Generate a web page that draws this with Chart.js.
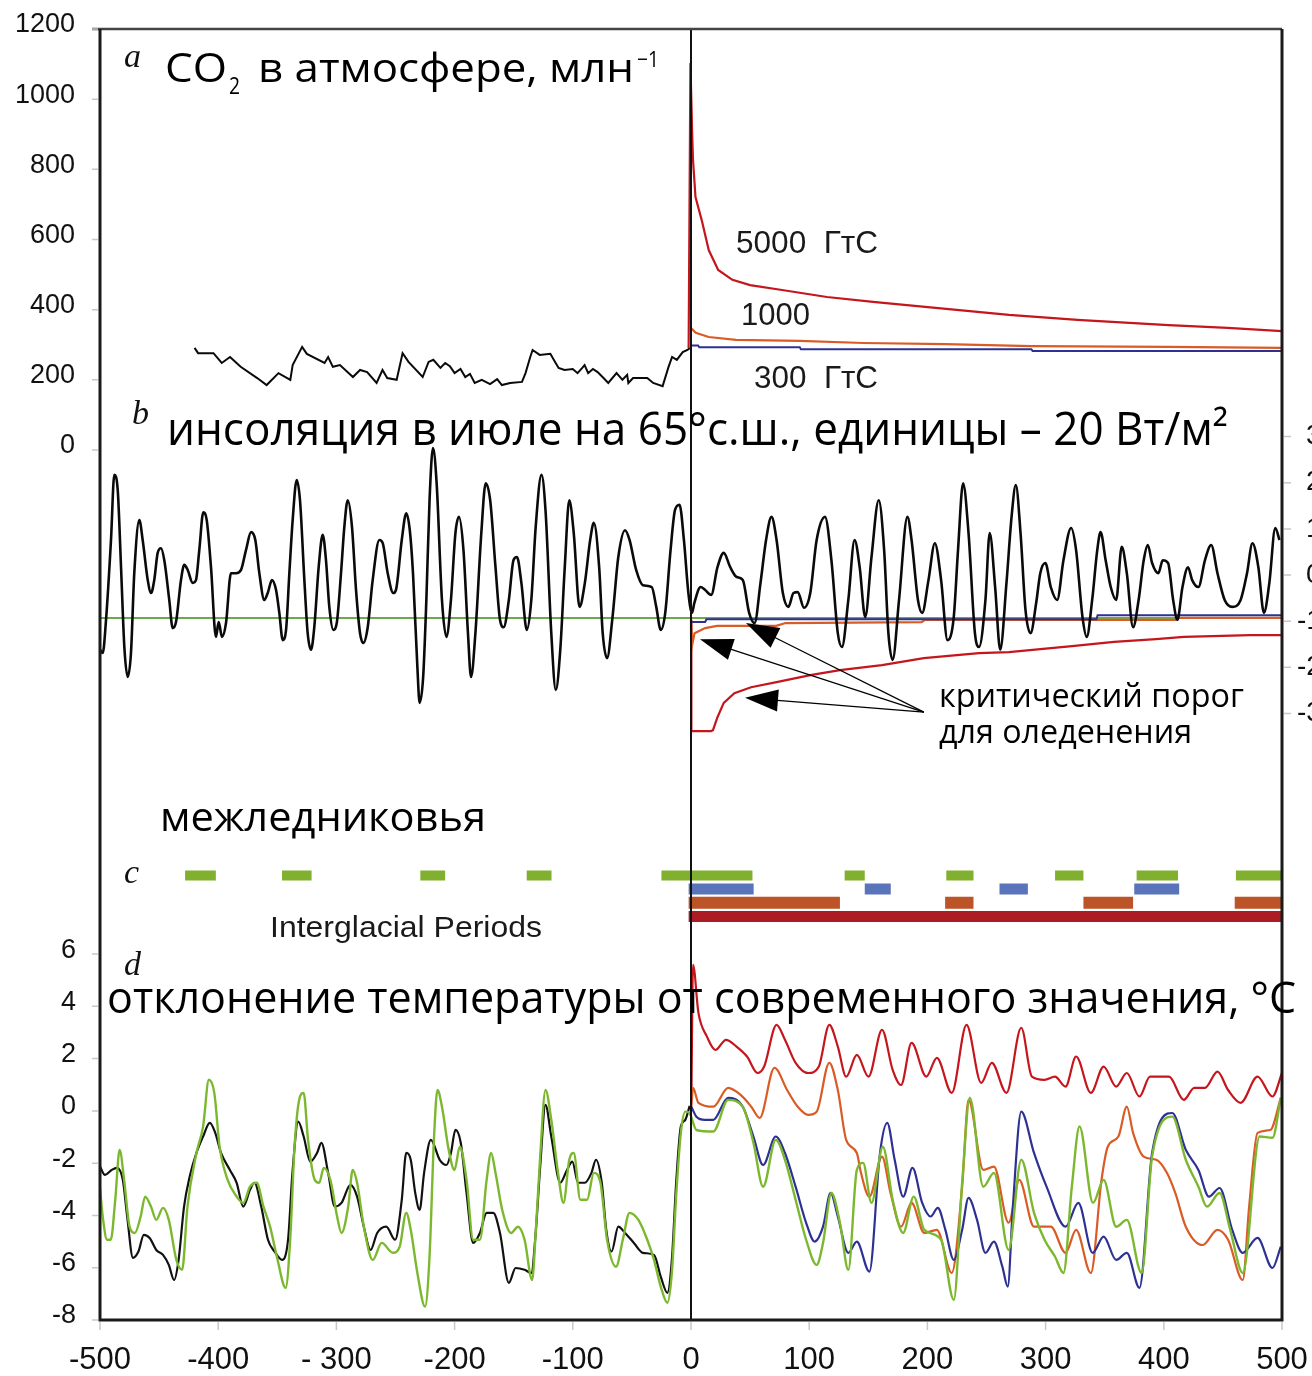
<!DOCTYPE html>
<html lang="ru">
<head>
<meta charset="UTF-8">
<title>CO2, insolation, interglacials, temperature</title>
<script src="https://cdn.jsdelivr.net/npm/chart.js@4.4.0/dist/chart.umd.min.js"></script>
<style>
    html, body { margin: 0; padding: 0; background: #fff; }
    .wrap { width: 1312px; height: 1376px; position: relative; }
</style>
</head>
<body>
<div class="wrap"><canvas id="chart"></canvas></div>
<script>
// ---- tick labels ----
const xTicks = [-500, -400, -300, -200, -100, 0, 100, 200, 300, 400, 500];
const xTickLabels = ['-500', '-400', '- 300', '-200', '-100', '0', '100', '200', '300', '400', '500'];
const co2Ticks = [0, 200, 400, 600, 800, 1000, 1200];
const tempTicks = [-8, -6, -4, -2, 0, 2, 4, 6];
const insolTicks = [-3, -2, -1, 0, 1, 2, 3];

// ---- panel a: CO2, ppm ----
const co2Past = [[-420,291],[-417,276],[-404,276],[-397,248],[-390,265],[-381,237],[-367,205],[-359,185],[-349,219],[-339,200],[-337,242],[-329,294],[-325,274],[-310,248],[-307,265],[-303,237],[-297,242],[-286,208],[-280,228],[-274,222],[-266,191],[-261,228],[-257,205],[-249,200],[-244,276],[-239,251],[-227,208],[-222,251],[-218,257],[-212,234],[-208,248],[-204,239],[-200,219],[-195,231],[-191,208],[-187,217],[-183,191],[-177,200],[-170,188],[-164,202],[-160,185],[-153,191],[-143,194],[-140,219],[-136,265],[-134,285],[-128,271],[-119,274],[-115,251],[-112,234],[-107,228],[-100,231],[-96,219],[-92,234],[-90,242],[-87,219],[-83,231],[-79,222],[-74,205],[-70,191],[-63,219],[-58,200],[-54,214],[-53,191],[-49,205],[-37,205],[-32,191],[-24,182],[-19,237],[-16,265],[-12,257],[-7,279],[-3,285],[-1,290]];
const co2_5000 = [[-2,290],[-0.5,1103],[1,900],[1.7,827],[3.8,721],[9,656],[15,570],[23,513],[35,485],[50,470],[77,456],[115,436],[154,422],[207,405],[269,385],[327,371],[404,356],[454,348],[500,339]];
const co2_1000 = [[0,348],[4,334],[15,322],[38,314],[92,311],[146,305],[215,302],[288,296],[404,294],[500,291]];
const co2_300 = [[0,298],[6,298],[7,293],[92,293],[93,287],[288,287],[289,282],[500,282]];

// ---- panel b: insolation, units of 20 W/m2 ----
const insolation = [[-500,-1.62],[-497.7,-1.69],[-494.9,-0.97],[-490.7,0.76],[-487.9,2.17],[-485,1.84],[-482.2,0.17],[-479.4,-1.56],[-476.6,-2.21],[-473.8,-1.69],[-471,0.04],[-466.7,1.19],[-463.9,0.76],[-459.6,-0.11],[-456.8,-0.39],[-454.1,-0.11],[-451.2,0.48],[-448.4,0.58],[-445.6,0.32],[-441.4,-0.54],[-438.5,-1.15],[-435.7,-1.02],[-431.5,-0.11],[-428.7,0.22],[-425.8,0.11],[-421.6,-0.17],[-418.8,-0.11],[-416,0.54],[-412.6,1.36],[-409.7,1.19],[-406.1,0.17],[-401.9,-1.34],[-399.6,-1.02],[-396.8,-1.34],[-393.4,-1.04],[-389.2,0.04],[-384.9,0.04],[-380.7,0.11],[-376.5,0.54],[-372.2,0.93],[-368.6,0.76],[-365.2,0.04],[-361,-0.54],[-358.1,-0.39],[-354.5,-0.11],[-351.1,-0.32],[-348.3,-0.82],[-345.4,-1.41],[-342.6,-1.19],[-339.8,0.04],[-337,1.19],[-333.6,2.06],[-330.8,1.62],[-327.1,-0.11],[-324.3,-1.26],[-321.5,-1.62],[-318.7,-1.13],[-315,0.17],[-311.6,0.87],[-308.8,0.32],[-306,-0.69],[-302.6,-1.19],[-299.7,-1.04],[-296.1,0.04],[-293.3,1.04],[-290.4,1.62],[-286.8,1.04],[-283.4,-0.32],[-280,-1.26],[-277.2,-1.47],[-273.5,-1.13],[-269.3,-0.11],[-263.7,0.76],[-260.8,0.69],[-256.6,0.04],[-251.9,-0.39],[-249.6,-0.32],[-244.7,0.76],[-240.9,1.34],[-237.9,0.97],[-235.2,0.04],[-231.5,-1.99],[-229.6,-2.77],[-226.6,-2.21],[-223.9,-0.54],[-221.2,1.62],[-218.3,2.75],[-215.2,1.99],[-210.7,-0.54],[-206.9,-1.34],[-203.1,-0.54],[-199.3,0.91],[-196.3,1.26],[-192.5,0.54],[-188.7,-1.26],[-186.1,-2.21],[-182.4,-1.26],[-177.4,0.91],[-173.7,1.99],[-169.9,1.62],[-165.4,0.17],[-161.6,-0.97],[-158.5,-1.13],[-154.1,-0.54],[-150.2,0.32],[-147.2,0.39],[-143.5,-0.17],[-138.9,-1.19],[-135.1,-0.54],[-131.4,1.04],[-126.5,2.17],[-123.1,1.41],[-118.2,-1.26],[-114.4,-2.49],[-110.6,-1.62],[-106.8,0.17],[-103,1.62],[-99.2,0.91],[-94.3,-0.69],[-89.8,-0.17],[-85.3,0.76],[-82.2,1.13],[-77.7,0.17],[-74.7,-1.26],[-71,-1.8],[-66.4,-0.91],[-61.5,0.39],[-55.8,0.97],[-52,0.76],[-46.4,0.11],[-40.7,-0.22],[-33.2,-0.26],[-29.4,-0.69],[-25.6,-1.19],[-21.8,-0.82],[-17.3,0.54],[-13.5,1.41],[-9.7,1.52],[-6,0.76],[-2.2,-0.39],[0.8,-0.82],[2.8,-0.61],[8.1,-0.26],[11.8,-0.32],[17.1,-0.43],[22.4,0.17],[27.7,0.48],[33.2,0.17],[38.5,-0.04],[43.8,-0.11],[49.2,-0.82],[53.8,-1.04],[58.8,-0.17],[63.5,0.76],[68.1,1.26],[72.4,0.76],[77.7,-0.39],[82.4,-0.69],[86.7,-0.39],[90.3,-0.37],[95.6,-0.71],[100.9,-0.39],[106.3,0.76],[113.4,1.26],[118.8,0.32],[124.2,-1.26],[127.7,-1.56],[133.1,-0.54],[138.4,0.76],[142.7,0.17],[147.4,-0.91],[152.7,0.39],[158.8,1.62],[163.4,0.54],[167,-1.26],[170.6,-1.84],[176,-0.54],[183.1,1.26],[186.6,0.76],[192,-0.54],[195.6,-0.82],[200.9,-0.11],[206.3,0.69],[211.6,-0.11],[217,-1.41],[222.3,-0.91],[225.9,0.54],[230.2,1.99],[234.8,0.91],[240.2,-1.26],[243.7,-1.56],[249.1,-0.54],[252.7,0.91],[257.3,-0.26],[261.6,-1.62],[266.9,-0.17],[271.2,1.26],[274.8,1.95],[278.8,0.91],[283,-0.76],[287.3,-1.26],[292,-0.61],[295.5,0.04],[299.8,0.26],[304.4,-0.26],[309.8,-0.54],[315.1,0.32],[321.6,1.02],[325.8,0.54],[331.2,-0.91],[334.8,-1.34],[339.4,-0.54],[343.7,0.54],[346.5,0.93],[350.8,0.32],[355.1,-0.26],[359.7,-0.54],[364.4,0.61],[368.7,0.04],[374,-1.13],[378.7,-0.54],[383,0.32],[386.5,0.65],[390.1,0.26],[395.4,0.04],[399.1,0.32],[403.6,0.26],[407.9,-0.54],[411.5,-0.97],[415.8,-0.26],[420.5,0.17],[424,-0.11],[429.3,-0.26],[434.8,0.32],[440.1,0.65],[445.4,0.04],[451.5,-0.54],[457.9,-0.69],[465,-0.54],[470.4,0.04],[475,0.69],[480,0.17],[484.7,-0.82],[489.3,-0.17],[494.3,1.02],[497.9,0.76]];
const thresholdNow = [[-500,-0.93],[500,-0.93]];
const threshold300 = [[0,-1.02],[12,-1.02],[13,-0.96],[343,-0.96],[344,-0.87],[500,-0.87]];
const threshold1000 = [[0,-0.93],[1,-1.51],[3,-1.26],[12,-1.15],[22,-1.1],[72,-1.1],[80,-1.04],[195,-1.02],[198,-0.97],[410,-0.97],[412,-0.93],[500,-0.93]];
const threshold5000 = [[0,-0.97],[0.3,-3.38],[17,-3.38],[18.6,-3.36],[22.4,-3.08],[27.7,-2.77],[36.7,-2.56],[50.8,-2.43],[72.4,-2.32],[100.9,-2.17],[126,-2.06],[161.6,-1.95],[197,-1.8],[243.6,-1.69],[269,-1.67],[322.3,-1.54],[357.9,-1.45],[393.4,-1.39],[417,-1.34],[473,-1.3],[500,-1.3]];
// arrows: tail and tips in (kyr, insolation units)
const arrowTail = [197, -2.97];
const arrowTips = [[46.5, -1.04], [7.6, -1.39], [45.7, -2.66]];

// ---- panel c: interglacial periods, kyr ----
const igNow = [[-428,-402],[-346,-321],[-229,-208],[-139,-118],[-25,52],[130,147],[216,239],[308,332],[377,412],[461,500]];
const ig300 = [[-2,53],[147,169],[261,285],[375,413]];
const ig1000 = [[-2,126],[215,239],[332,374],[460,500]];
const ig5000 = [[-2,500]];

// ---- panel d: temperature anomaly, C ----
const tempBlack = [[-500,-2.13],[-495.8,-2.45],[-490.2,-2.26],[-485.6,-2.18],[-480.7,-2.64],[-477,-4.04],[-472.1,-5.62],[-467.5,-5.38],[-462.9,-4.74],[-458,-4.86],[-452.4,-5.32],[-446.7,-5.51],[-441.8,-5.89],[-437.3,-6.47],[-433.5,-5.7],[-428.9,-3.66],[-424.1,-2.51],[-418.4,-1.61],[-412.8,-0.98],[-407.1,-0.46],[-402.5,-0.84],[-397.6,-1.61],[-390.1,-2.26],[-384.4,-2.75],[-378.8,-3.66],[-373.1,-3.02],[-369.3,-2.75],[-363.6,-3.66],[-357.9,-4.93],[-352.3,-5.38],[-345.9,-5.7],[-340.9,-4.93],[-337.2,-2.37],[-332.3,-0.41],[-327.7,-0.98],[-322.1,-1.94],[-316.4,-1.61],[-312.7,-1.22],[-307,-2.37],[-301.3,-3.66],[-295.7,-3.52],[-288.1,-2.83],[-282.5,-3.28],[-276.8,-4.43],[-271.1,-5.32],[-265.5,-4.67],[-257.9,-4.43],[-250.3,-4.93],[-244.7,-3.4],[-240.9,-1.61],[-237.1,-1.87],[-233.3,-3.14],[-229.6,-3.79],[-225.8,-2.37],[-220.1,-1.11],[-212.6,-1.87],[-206.9,-2.07],[-203.1,-1.61],[-199.3,-0.73],[-194.8,-1.22],[-189.9,-3.14],[-184.3,-5.05],[-178.6,-4.67],[-172.9,-3.9],[-167.3,-3.9],[-161.6,-4.67],[-154.1,-6.58],[-148.4,-6.01],[-140.8,-6.08],[-135.1,-6.2],[-131.4,-4.67],[-127.6,-2.13],[-123.1,0.23],[-118.2,-0.98],[-110.6,-2.75],[-104.9,-2.26],[-100.4,-1.94],[-95.5,-2.75],[-89.8,-2.75],[-84.2,-2.37],[-80.4,-1.87],[-75.5,-2.75],[-71.7,-4.55],[-67.2,-5.38],[-61.5,-4.43],[-55.8,-4.67],[-48.3,-5.05],[-40.7,-5.43],[-31.3,-5.51],[-25.6,-6.34],[-20,-6.96],[-16.2,-5.7],[-12.4,-2.64],[-8.6,-0.6],[-4.8,-0.34],[-1.1,0.19]];
const tempGreen = [[-500,-2.95],[-497.7,-4.04],[-494,-4.93],[-490.9,-4.93],[-487.1,-3.4],[-483.4,-1.49],[-479.6,-2.64],[-475,-4.43],[-470.5,-4.67],[-465.6,-4.04],[-461.8,-3.28],[-456.9,-3.66],[-452.4,-4.17],[-446.7,-3.71],[-441.8,-4.17],[-435.4,-5.7],[-430.5,-6.08],[-426,-3.66],[-418.4,-1.61],[-412.8,-0.6],[-407.9,1.19],[-403.3,0.69],[-398.8,-1.37],[-392,-2.64],[-384.4,-3.28],[-378.8,-3.52],[-373.1,-2.9],[-367.4,-2.75],[-361.7,-3.66],[-356.1,-4.43],[-350.4,-5.57],[-342.9,-6.77],[-339.1,-4.93],[-335.4,-1.37],[-331.5,0.42],[-327.7,0.69],[-324,-1.11],[-318.3,-2.64],[-314.5,-2.75],[-310.7,-2.18],[-305.1,-2.64],[-299.4,-4.04],[-295.7,-4.67],[-290,-3.66],[-286.2,-2.26],[-282.5,-2.75],[-276.8,-4.43],[-269.2,-5.7],[-261.7,-5.05],[-252.2,-5.43],[-246.5,-5.2],[-240.9,-3.9],[-237.1,-4.55],[-231.5,-6.2],[-225,-7.49],[-221.2,-5.57],[-217.5,-1.11],[-214.5,0.8],[-210.7,0.16],[-205,-1.49],[-200.1,-2.26],[-195.6,-1.37],[-189.9,-2.64],[-184.3,-4.93],[-178.6,-4.93],[-172.9,-2.64],[-169.1,-1.61],[-165.4,-2.37],[-159.7,-3.79],[-152.1,-4.67],[-146.4,-4.43],[-140.8,-4.93],[-134.4,-6.47],[-131.4,-4.67],[-127.6,-1.75],[-123.1,0.8],[-118.2,-0.34],[-112.5,-2.37],[-107.9,-3.52],[-103,-1.87],[-99.2,-1.61],[-93.6,-3.4],[-87.9,-3.4],[-82.2,-2.37],[-76.6,-2.75],[-71,-4.93],[-63.4,-5.96],[-57.7,-4.93],[-52,-3.9],[-44.5,-4.17],[-37,-4.93],[-31.3,-5.7],[-25.6,-6.72],[-20,-7.34],[-16.2,-6.2],[-12.4,-3.14],[-8.6,-0.84],[-4.8,-0.03],[-1.1,-0.1],[4.6,-0.73],[18.9,-0.79],[31.4,0.42],[43.8,0.16],[52.8,-1.22],[61,-2.9],[71.7,-1.11],[79.5,-1.87],[88.5,-3.4],[97.4,-4.93],[106.3,-5.89],[111.7,-5.05],[118.8,-3.14],[126,-4.28],[133.1,-6.08],[140.3,-2.26],[145.6,-1.99],[152.7,-3.52],[162.3,-1.37],[170.6,-3.4],[179.5,-4.67],[188.4,-3.28],[197.4,-4.55],[211.6,-4.93],[222.3,-7.23],[229.4,-2.75],[235.9,0.5],[247.3,-2.9],[256.3,-2.37],[268.7,-5.32],[279.4,-1.87],[290.2,-3.9],[299.1,-4.93],[307.9,-5.57],[315.1,-6.2],[322.2,-2.9],[328.7,-0.6],[340.1,-3.52],[349.1,-2.64],[359.7,-4.43],[368.7,-4.17],[381.2,-6.2],[390.1,-1.75],[407.2,-0.22],[418.6,-1.87],[429.3,-2.9],[436.5,-3.66],[447.2,-3.14],[456.2,-4.55],[466.8,-6.2],[481.1,-0.98],[491.9,-1.03],[499,0.5]];
const tempRed = [[0.3,0.42],[1.7,5.59],[6.3,3.75],[13.5,2.84],[20.6,2.33],[29.6,2.72],[38.5,2.46],[47.4,2.08],[56.3,1.45],[61.8,1.69],[72.4,3.29],[79.5,2.72],[88.5,1.84],[99.2,1.45],[108.1,1.69],[117,3.29],[124.2,2.46],[131.3,1.31],[140.3,2.14],[150.2,1.31],[161.6,3.1],[170.6,1.57],[177.7,0.99],[186.6,2.6],[199.1,1.31],[208,2.03],[220.6,0.69],[233.1,3.29],[245.5,1.07],[254.5,1.84],[266.9,0.69],[279.4,3.18],[288.4,1.31],[299.1,1.19],[307.9,1.31],[316.9,0.93],[325.8,2.08],[338.3,0.69],[349.1,1.69],[359.7,0.93],[368.7,1.45],[379.4,0.55],[388.3,1.31],[404.4,1.31],[416.9,0.42],[425.8,0.88],[434.8,0.88],[445.4,1.5],[454.4,0.8],[465,0.31],[479.3,1.31],[491.9,0.55],[500,1.45]];
const tempOrange = [[0.3,0.16],[1.7,0.88],[6.3,0.31],[18.9,0.16],[31.4,0.88],[42,0.61],[51,0.16],[58.1,-0.27],[70.6,1.65],[81.3,0.8],[90.3,0.16],[99.2,-0.15],[106.3,-0.03],[117,1.84],[124.2,0.8],[131.3,-1.11],[140.3,-1.61],[143.8,-2.37],[150.9,-3.28],[161.6,-1.75],[168.8,-3.14],[177.7,-4.43],[186.6,-3.52],[197.4,-4.67],[208,-4.55],[220.6,-6.2],[229.4,-2.9],[234.8,0.42],[247.3,-2.26],[256.3,-2.13],[268.7,-4.28],[277.7,-2.64],[290.2,-4.43],[304.4,-4.43],[316.9,-5.43],[325.8,-4.55],[338.3,-6.2],[347.3,-2.64],[352.6,-1.37],[361.6,-0.98],[368.7,0.16],[374,-0.84],[383,-1.75],[393.6,-1.87],[402.6,-2.37],[409.7,-3.14],[418.6,-4.43],[432.9,-5.13],[445.4,-4.55],[454.4,-4.93],[466.8,-6.47],[472.2,-3.66],[479.3,-0.84],[490.1,-0.73],[499,0.5]];
const tempBlue = [[0.3,0.16],[4.6,-0.22],[11.8,-0.34],[18.9,-0.34],[31.4,0.5],[43.8,0.16],[52.8,-0.98],[61,-2.07],[71.7,-0.98],[79.5,-1.61],[88.5,-2.9],[97.4,-4.28],[104.6,-5],[111.7,-4.43],[118.1,-3.14],[124.2,-4.04],[133.1,-5.43],[140.3,-5],[150.9,-6.15],[159.9,-1.61],[166,-0.46],[172.3,-1.87],[179.5,-3.28],[187.4,-2.18],[195.6,-3.52],[202.7,-4.04],[208.8,-3.71],[215.2,-4.55],[222.3,-5.7],[229.4,-4.55],[234.8,-3.33],[242,-4.17],[249.1,-5.43],[256.3,-5],[263.4,-5.96],[268,-6.72],[272.3,-3.66],[279.4,-0.03],[290.2,-1.61],[300.8,-2.9],[316.9,-4.43],[327.7,-3.52],[339.8,-5.43],[349.1,-4.81],[359.7,-5.7],[368.7,-5.43],[379.4,-6.77],[390.1,-1.61],[407.2,-0.08],[418.6,-1.49],[429.3,-2.26],[438.2,-3.28],[447.2,-2.95],[457.9,-4.55],[466.8,-5.43],[479.3,-4.86],[491.9,-6.01],[499,-5.19]];

function pts(arr) {
    return arr.map(p => ({ x: p[0], y: p[1] }));
}

// interglacial row -> broken line, one segment per period
function periodPts(list, row) {
    const out = [];
    list.forEach(iv => {
        out.push({ x: iv[0], y: row }, { x: iv[1], y: row }, { x: iv[1], y: null });
    });
    return out;
}

function line(data, axis, color, width, smooth) {
    return {
        data: data, yAxisID: axis, borderColor: color, borderWidth: width,
        pointRadius: 0, fill: false, spanGaps: false,
        cubicInterpolationMode: smooth ? 'monotone' : 'default', tension: 0
    };
}

function bar(list, row, color, width) {
    const d = line(periodPts(list, row), 'yc', color, width, false);
    d.borderCapStyle = 'butt';
    return d;
}

// draws text squeezed or stretched to a given width
function fitText(ctx, text, x, y, w, font) {
    ctx.font = font;
    const m = ctx.measureText(text).width;
    ctx.save();
    ctx.translate(x, y);
    ctx.scale(w / m, 1);
    ctx.textAlign = 'left';
    ctx.fillText(text, 0, 0);
    ctx.restore();
}

const overlay = {
    id: 'overlay',
    afterDatasetsDraw(chart) {
        const ctx = chart.ctx;
        const a = chart.chartArea;
        const xs = chart.scales.x, yi = chart.scales.yIns;
        ctx.save();
        // zero line
        ctx.strokeStyle = '#111';
        ctx.lineWidth = 2;
        ctx.beginPath();
        ctx.moveTo(xs.getPixelForValue(0), a.top);
        ctx.lineTo(xs.getPixelForValue(0), a.bottom);
        ctx.stroke();
        // frame
        ctx.strokeStyle = '#444';
        ctx.lineWidth = 2.5;
        ctx.beginPath();
        ctx.moveTo(92, a.top); ctx.lineTo(a.right, a.top);
        ctx.stroke();
        ctx.strokeStyle = '#1a1a1a';
        ctx.lineWidth = 3;
        ctx.beginPath();
        ctx.moveTo(a.left, a.top); ctx.lineTo(a.left, a.bottom);
        ctx.lineTo(a.right, a.bottom); ctx.lineTo(a.right, a.top);
        ctx.stroke();
        // arrows
        const tx = xs.getPixelForValue(arrowTail[0]), ty = yi.getPixelForValue(arrowTail[1]);
        ctx.fillStyle = '#000';
        ctx.strokeStyle = '#000';
        ctx.lineWidth = 1.2;
        arrowTips.forEach(t => {
            const px = xs.getPixelForValue(t[0]), py = yi.getPixelForValue(t[1]);
            const dx = tx - px, dy = ty - py, len = Math.hypot(dx, dy);
            const ux = dx / len, uy = dy / len;
            ctx.beginPath();
            ctx.moveTo(tx, ty); ctx.lineTo(px + ux * 20, py + uy * 20);
            ctx.stroke();
            const bx = px + ux * 33, by = py + uy * 33;
            ctx.beginPath();
            ctx.moveTo(px, py);
            ctx.lineTo(bx - uy * 11, by + ux * 11);
            ctx.lineTo(bx + uy * 11, by - ux * 11);
            ctx.closePath();
            ctx.fill();
        });
        ctx.restore();
    },
    afterDraw(chart) {
        const ctx = chart.ctx;
        const a = chart.chartArea;
        const xs = chart.scales.x, yc = chart.scales.yCO2, yt = chart.scales.yT, yi = chart.scales.yIns;
        ctx.save();
        // tick marks
        ctx.strokeStyle = '#c8c8c8';
        ctx.lineWidth = 1.5;
        ctx.beginPath();
        co2Ticks.forEach(v => { const y = yc.getPixelForValue(v); ctx.moveTo(92, y); ctx.lineTo(a.left - 2, y); });
        tempTicks.forEach(v => { const y = yt.getPixelForValue(v); ctx.moveTo(92, y); ctx.lineTo(a.left - 2, y); });
        insolTicks.forEach(v => { const y = yi.getPixelForValue(v); ctx.moveTo(a.right + 2, y); ctx.lineTo(a.right + 9, y); });
        xTicks.forEach(v => { const x = xs.getPixelForValue(v); ctx.moveTo(x, a.bottom + 2); ctx.lineTo(x, a.bottom + 10); });
        ctx.stroke();

        // tick labels
        ctx.fillStyle = '#111';
        ctx.font = '27px "Liberation Sans", Arial, sans-serif';
        ctx.textAlign = 'right';
        ctx.textBaseline = 'middle';
        co2Ticks.forEach(v => ctx.fillText(String(v), 75, yc.getPixelForValue(v) - 4));
        tempTicks.forEach(v => ctx.fillText(String(v), 76, yt.getPixelForValue(v) - 4));
        ctx.textAlign = 'left';
        ctx.font = '28px "Liberation Sans", Arial, sans-serif';
        insolTicks.forEach(v => ctx.fillText(String(v), v < 0 ? 1297 : 1306, yi.getPixelForValue(v)));
        ctx.textAlign = 'center';
        ctx.font = '31px "Liberation Sans", Arial, sans-serif';
        xTicks.forEach((v, i) => ctx.fillText(xTickLabels[i], xs.getPixelForValue(v), 1360));

        // panel letters
        ctx.textBaseline = 'alphabetic';
        ctx.font = 'italic 34px "Liberation Serif", "Times New Roman", serif';
        ctx.textAlign = 'left';
        ctx.fillText('a', 124, 67);
        ctx.fillText('b', 132, 424);
        ctx.fillText('c', 124, 883);
        ctx.fillText('d', 124, 975);

        // titles
        ctx.fillStyle = '#000';
        const sans = '"Open Sans", "Noto Sans", sans-serif';
        fitText(ctx, 'CO', 165, 82, 62, '40px ' + sans);
        fitText(ctx, '2', 229, 94, 11, '24px ' + sans);
        fitText(ctx, 'в атмосфере, млн', 258, 82, 376, '40px ' + sans);
        fitText(ctx, '−1', 637, 67, 22, '22px ' + sans);
        fitText(ctx, 'инсоляция в июле на 65°с.ш., единицы – 20 Вт/м²', 167, 445, 1061, '45px ' + sans);
        fitText(ctx, 'межледниковья', 160, 831, 326, '40px ' + sans);
        fitText(ctx, 'критический порог', 939, 707, 305, '32px ' + sans);
        fitText(ctx, 'для оледенения', 939, 743, 253, '32px ' + sans);
        fitText(ctx, 'отклонение температуры от современного значения, °C', 107, 1013, 1189, '43px ' + sans);

        const helv = '"Liberation Sans", Arial, sans-serif';
        ctx.fillStyle = '#1a1a1a';
        fitText(ctx, 'Interglacial Periods', 270, 937, 272, '30px ' + helv);
        fitText(ctx, '5000  ГтС', 736, 253, 142, '31px ' + helv);
        fitText(ctx, '1000', 741, 325, 69, '31px ' + helv);
        fitText(ctx, '300  ГтС', 754, 388, 124, '31px ' + helv);
        ctx.restore();
    }
};

const RED = '#c4161c', ORANGE = '#d95b26', BLUE = '#2e3192', GREEN = '#7cb82f';

new Chart(document.getElementById('chart'), {
    type: 'line',
    data: {
        datasets: [
            // panel d (first = drawn on top)
            line(pts(tempGreen), 'yT', GREEN, 2.4, true),
            line(pts(tempBlue), 'yT', BLUE, 2.2, true),
            line(pts(tempOrange), 'yT', ORANGE, 2.2, true),
            line(pts(tempRed), 'yT', RED, 2.2, true),
            line(pts(tempBlack), 'yT', '#111', 2.2, true),
            // panel c
            bar(igNow, 4, '#80b02e', 10),
            bar(ig300, 3, '#5a74bb', 11),
            bar(ig1000, 2, '#bd5427', 12),
            bar(ig5000, 1, '#ad1b24', 11),
            // panel b
            line(pts(insolation), 'yIns', '#0a0a0a', 2.6, true),
            line(pts(threshold300), 'yIns', BLUE, 2, false),
            line(pts(threshold1000), 'yIns', ORANGE, 2.2, false),
            line(pts(threshold5000), 'yIns', RED, 2.2, false),
            line(pts(thresholdNow), 'yIns', '#6aaa4a', 2, false),
            // panel a
            line(pts(co2Past), 'yCO2', '#0a0a0a', 2, false),
            line(pts(co2_300), 'yCO2', BLUE, 2, false),
            line(pts(co2_1000), 'yCO2', ORANGE, 2.2, false),
            line(pts(co2_5000), 'yCO2', RED, 2.2, false)
        ]
    },
    options: {
        responsive: true,
        maintainAspectRatio: false,
        animation: false,
        parsing: true,
        layout: { padding: { left: 100, right: 30, top: 29, bottom: 56 } },
        plugins: { legend: { display: false }, tooltip: { enabled: false } },
        scales: {
            x: { type: 'linear', min: -500, max: 500, display: false },
            yCO2: { type: 'linear', min: -2480, max: 1200, display: false },
            yIns: { type: 'linear', min: -16.14, max: 11.83, display: false },
            yc: { type: 'linear', min: -28.45, max: 65.78, display: false },
            yT: { type: 'linear', min: -8, max: 41.39, display: false }
        }
    },
    plugins: [overlay]
});
</script>
</body>
</html>
